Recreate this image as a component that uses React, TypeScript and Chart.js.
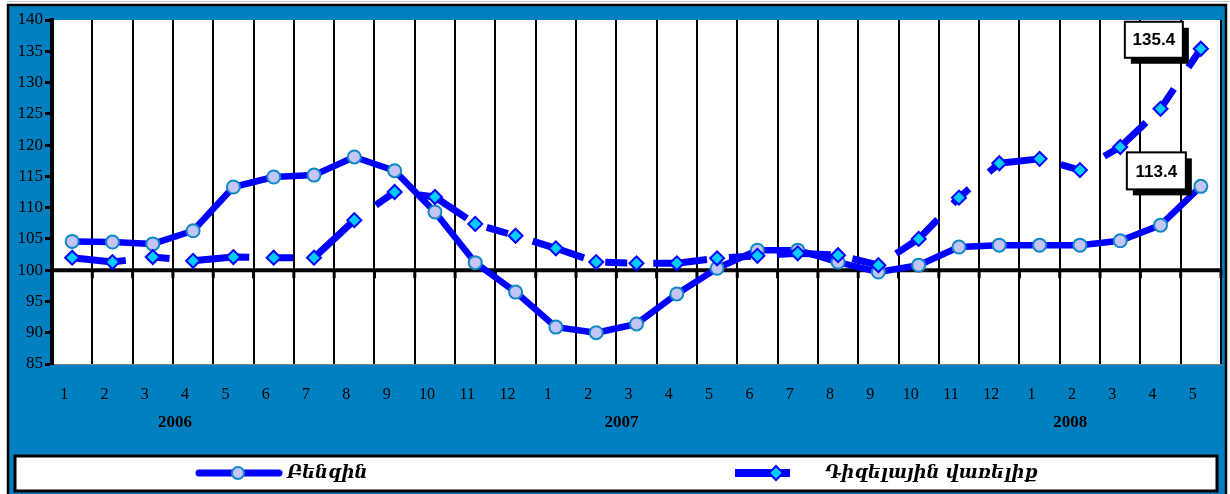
import React, { useEffect, useRef } from "react";
import { Chart, registerables } from "chart.js";

Chart.register(...registerables);

// ---- data ----
const years = ["2006", "2007", "2008"];
const monthLabels: string[] = [
  "1", "2", "3", "4", "5", "6", "7", "8", "9", "10", "11", "12",
  "1", "2", "3", "4", "5", "6", "7", "8", "9", "10", "11", "12",
  "1", "2", "3", "4", "5",
];
// fractional category index where each year label sits
const yearLabelIndex = [2.55, 13.63, 24.76];

const seriesNames = ["Բենզին", "Դիզելային վառելիք"];

const benzin = [
  104.6, 104.5, 104.2, 106.3, 113.3, 114.9, 115.2, 118.1, 115.9, 109.3, 101.2, 96.5,
  90.9, 90.0, 91.4, 96.2, 100.3, 103.2, 103.2, 101.3, 99.7, 100.8, 103.7, 104.0,
  104.0, 104.0, 104.7, 107.2, 113.4,
];
const diesel = [
  102.0, 101.3, 102.1, 101.5, 102.1, 102.0, 102.0, 108.0, 112.5, 111.7, 107.4, 105.5,
  103.5, 101.3, 101.1, 101.1, 101.9, 102.3, 102.7, 102.4, 100.8, 105.0, 111.6, 117.1,
  117.8, 116.0, 119.7, 125.8, 135.4,
];

const yMin = 85;
const yMax = 140;
const yStep = 5;

const BLUE_BG = "#0080C0";
const LINE_BLUE = "#0000FF";
const SERIF = "'Liberation Serif', 'Times New Roman', serif";

export default function App() {
  const ref = useRef<HTMLCanvasElement | null>(null);

  useEffect(() => {
    const canvas = ref.current;
    if (!canvas) return;

    const W = 1230;
    const H = 494;

    const framePlugin = {
      id: "frame",
      beforeDraw(chart: any) {
        const { ctx, chartArea } = chart;
        ctx.save();
        ctx.fillStyle = "#ffffff";
        ctx.fillRect(0, 0, W, H);
        ctx.strokeStyle = "#C8C8C8";
        ctx.lineWidth = 1;
        ctx.beginPath();
        ctx.moveTo(7, 1.5);
        ctx.lineTo(W, 1.5);
        ctx.stroke();
        ctx.fillStyle = BLUE_BG;
        ctx.fillRect(8, 5, 1218, H);
        ctx.strokeStyle = "#000";
        ctx.lineWidth = 2.5;
        ctx.strokeRect(8, 5, 1218, H + 10);
        ctx.fillStyle = "#ffffff";
        ctx.fillRect(chartArea.left, chartArea.top, chartArea.right - chartArea.left, chartArea.bottom - chartArea.top);
        ctx.restore();
      },
    };

    const baselinePlugin = {
      id: "baseline100",
      beforeDatasetsDraw(chart: any) {
        const { ctx, chartArea, scales } = chart;
        const y = scales.y.getPixelForValue(100);
        ctx.save();
        ctx.strokeStyle = "#000";
        ctx.lineWidth = 4;
        ctx.beginPath();
        ctx.moveTo(chartArea.left, y);
        ctx.lineTo(chartArea.right, y);
        ctx.stroke();
        ctx.lineWidth = 3;
        ctx.lineCap = "round";
        for (let i = 0; i <= monthLabels.length; i++) {
          const x = scales.x.getPixelForValue(i - 0.5);
          ctx.beginPath();
          ctx.moveTo(x, y);
          ctx.lineTo(x, y + 7);
          ctx.stroke();
        }
        ctx.restore();
      },
    };

    const calloutConfig = [
      { dataset: 1, dx: -76, dy: -27, w: 58, h: 36 },
      { dataset: 0, dx: -74, dy: -34, w: 59, h: 37 },
    ];

    const calloutPlugin = {
      id: "callouts",
      afterDatasetsDraw(chart: any) {
        const { ctx } = chart;
        ctx.save();
        calloutConfig.forEach((c) => {
          const meta = chart.getDatasetMeta(c.dataset);
          const idx = meta.data.length - 1;
          const el = meta.data[idx];
          const value = chart.data.datasets[c.dataset].data[idx] as number;
          const left = el.x + c.dx;
          const top = el.y + c.dy;
          ctx.fillStyle = "#000";
          ctx.fillRect(left + 6, top + 6, c.w, c.h);
          ctx.fillStyle = "#fff";
          ctx.fillRect(left, top, c.w, c.h);
          ctx.strokeStyle = "#000";
          ctx.lineWidth = 2;
          ctx.strokeRect(left, top, c.w, c.h);
          ctx.fillStyle = "#000";
          ctx.font = "bold 17px 'Liberation Sans', Arial, sans-serif";
          ctx.textAlign = "center";
          ctx.textBaseline = "middle";
          ctx.fillText(value.toFixed(1), left + c.w / 2, top + c.h / 2 + 1);
        });
        ctx.restore();
      },
    };

    const yearPlugin = {
      id: "years",
      afterDraw(chart: any) {
        const { ctx, scales } = chart;
        ctx.save();
        ctx.fillStyle = "#000";
        ctx.font = `bold 17px ${SERIF}`;
        ctx.textAlign = "center";
        ctx.textBaseline = "middle";
        years.forEach((yr, i) => {
          const x = scales.x.getPixelForValue(yearLabelIndex[i]);
          ctx.fillText(yr, x, 423);
        });
        ctx.restore();
      },
    };

    const legendPlugin = {
      id: "customLegend",
      afterDraw(chart: any) {
        const { ctx } = chart;
        const ds = chart.data.datasets;
        ctx.save();
        ctx.fillStyle = "#fff";
        ctx.fillRect(15, 456, 1202, 35);
        ctx.strokeStyle = "#000";
        ctx.lineWidth = 3;
        ctx.strokeRect(15, 456, 1202, 35);
        const cy = 473;
        // item 1: line + circle
        ctx.strokeStyle = ds[0].borderColor;
        ctx.lineWidth = 7;
        ctx.lineCap = "round";
        ctx.beginPath();
        ctx.moveTo(199, cy);
        ctx.lineTo(279, cy);
        ctx.stroke();
        ctx.beginPath();
        ctx.arc(238, cy, 6, 0, Math.PI * 2);
        ctx.fillStyle = ds[0].pointBackgroundColor;
        ctx.fill();
        ctx.lineWidth = 2;
        ctx.strokeStyle = ds[0].pointBorderColor;
        ctx.stroke();
        // item 2: line + diamond
        ctx.strokeStyle = ds[1].borderColor;
        ctx.lineWidth = 8;
        ctx.lineCap = "butt";
        ctx.beginPath();
        ctx.moveTo(735, cy);
        ctx.lineTo(790, cy);
        ctx.stroke();
        ctx.beginPath();
        ctx.moveTo(776, cy - 7);
        ctx.lineTo(783, cy);
        ctx.lineTo(776, cy + 7);
        ctx.lineTo(769, cy);
        ctx.closePath();
        ctx.fillStyle = ds[1].pointBackgroundColor;
        ctx.fill();
        ctx.lineWidth = 2;
        ctx.strokeStyle = ds[1].pointBorderColor;
        ctx.stroke();
        // texts
        ctx.fillStyle = "#000";
        ctx.font = "italic bold 18px 'DejaVu Serif', 'DejaVu Sans', serif";
        ctx.textAlign = "left";
        ctx.textBaseline = "middle";
        ctx.fillText(ds[0].label, 287, cy);
        ctx.fillText(ds[1].label, 825, cy);
        ctx.restore();
      },
    };

    const chart = new Chart(canvas, {
      type: "line",
      data: {
        labels: monthLabels,
        datasets: [
          {
            label: seriesNames[0],
            data: benzin,
            borderColor: LINE_BLUE,
            borderWidth: 6.5,
            borderJoinStyle: "round",
            borderCapStyle: "round",
            tension: 0,
            pointStyle: "circle",
            pointRadius: 6.5,
            pointBackgroundColor: "#C4C4F6",
            pointBorderColor: "#1088C4",
            pointBorderWidth: 2,
            order: 1,
          },
          {
            label: seriesNames[1],
            data: diesel,
            borderColor: LINE_BLUE,
            borderWidth: 7,
            borderDash: [54, 22, 22, 26],
            borderCapStyle: "butt",
            borderJoinStyle: "round",
            tension: 0,
            pointStyle: "rectRot",
            pointRadius: 7,
            pointBackgroundColor: "#00CCFF",
            pointBorderColor: "#0000FF",
            pointBorderWidth: 2,
            order: 0,
          },
        ],
      },
      options: {
        animation: false,
        responsive: false,
        maintainAspectRatio: false,
        events: [],
        layout: { padding: { left: 10, right: 8, top: 20, bottom: 0 } },
        plugins: { legend: { display: false }, tooltip: { enabled: false } },
        scales: {
          x: {
            offset: true,
            grid: { offset: true, color: "#000", lineWidth: 2, drawTicks: false },
            border: { display: true, color: "#808080", width: 1 },
            ticks: {
              font: { family: SERIF, size: 16 },
              color: "#000",
              padding: 21,
              labelOffset: -8,
              autoSkip: false,
              maxRotation: 0,
            },
            afterFit(s: any) {
              s.height = 130;
            },
          },
          y: {
            min: yMin,
            max: yMax,
            ticks: { stepSize: yStep, font: { family: SERIF, size: 17 }, color: "#000", padding: 2 },
            grid: { drawOnChartArea: false, drawTicks: true, tickLength: 7, tickWidth: 3, tickColor: "#000" },
            border: { display: true, color: "#000", width: 4 },
            afterFit(s: any) {
              s.width = 42;
            },
          },
        },
      },
      plugins: [framePlugin, baselinePlugin, calloutPlugin, yearPlugin, legendPlugin],
    } as any);

    return () => chart.destroy();
  }, []);

  return (
    <div style={{ position: "absolute", left: 0, top: 0, width: 1230, height: 494 }}>
      <canvas ref={ref} width={1230} height={494} style={{ display: "block", width: 1230, height: 494 }} />
    </div>
  );
}
